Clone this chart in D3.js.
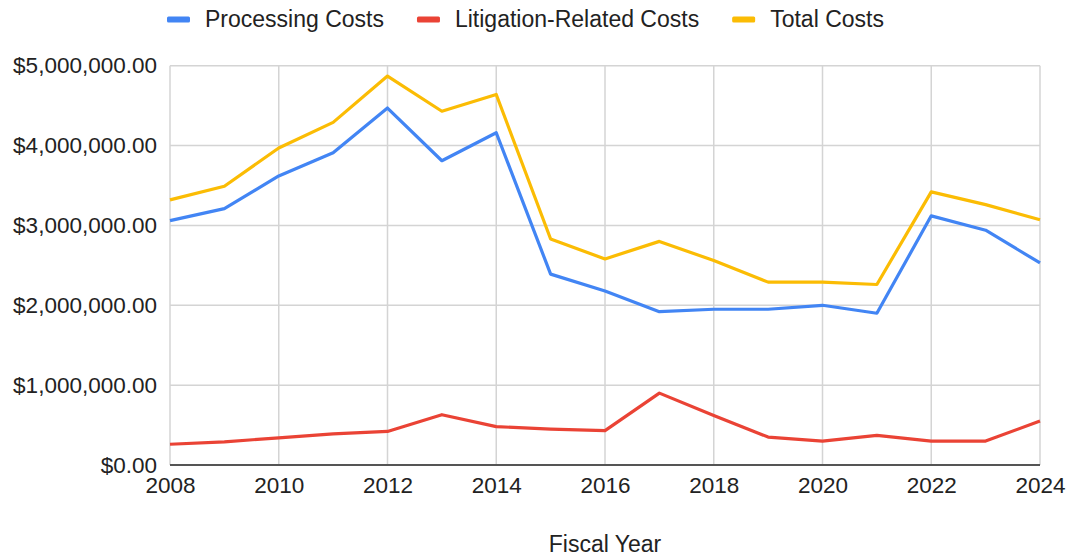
<!DOCTYPE html>
<html>
<head>
<meta charset="utf-8">
<script src="https://cdn.jsdelivr.net/npm/d3@7"></script>
<style>
  body { margin: 0; background: #fff; }
  text { font-family: "Liberation Sans", Arial, sans-serif; fill: #222; }
</style>
</head>
<body>
<div id="area"></div>
<script>
var years = [2008, 2009, 2010, 2011, 2012, 2013, 2014, 2015, 2016,
             2017, 2018, 2019, 2020, 2021, 2022, 2023, 2024];

var processingCosts = [3060000, 3210000, 3620000, 3910000, 4470000, 3810000, 4160000, 2390000, 2180000,
                       1920000, 1950000, 1950000, 2000000, 1900000, 3120000, 2940000, 2530000];
var litigationCosts = [260000, 290000, 340000, 390000, 420000, 630000, 480000, 450000, 430000,
                       900000, 620000, 350000, 300000, 370000, 300000, 300000, 550000];
var totalCosts = [3320000, 3490000, 3970000, 4290000, 4870000, 4430000, 4640000, 2830000, 2580000,
                  2800000, 2560000, 2290000, 2290000, 2260000, 3420000, 3260000, 3070000];

var seriesNames = ['Processing Costs', 'Litigation-Related Costs', 'Total Costs'];
var seriesColors = ['#4285F4', '#EA4335', '#FBBC04'];
var yTicks = [0, 1000000, 2000000, 3000000, 4000000, 5000000];
var xTicks = [2008, 2010, 2012, 2014, 2016, 2018, 2020, 2022, 2024];

var width = 1069, height = 558;
var plot = {left: 170, right: 1040, top: 65.7, bottom: 465};

var svg = d3.select('#area').append('svg')
    .attr('width', width)
    .attr('height', height);

var x = d3.scaleLinear().domain([2008, 2024]).range([plot.left, plot.right]);
var y = d3.scaleLinear().domain([0, 5000000]).range([plot.bottom, plot.top]);

var money = d3.format('$,.2f');

// gridlines
svg.append('g')
  .selectAll('line')
  .data(yTicks.slice(1))
  .enter().append('line')
    .attr('x1', plot.left).attr('x2', plot.right)
    .attr('y1', function(d) { return y(d); })
    .attr('y2', function(d) { return y(d); })
    .attr('stroke', '#d4d4d4')
    .attr('stroke-width', 1.5);

svg.append('g')
  .selectAll('line')
  .data(xTicks)
  .enter().append('line')
    .attr('x1', function(d) { return x(d); })
    .attr('x2', function(d) { return x(d); })
    .attr('y1', plot.top).attr('y2', plot.bottom)
    .attr('stroke', '#d4d4d4')
    .attr('stroke-width', 1.5);

// y axis labels
var yAxis = d3.axisLeft(y).tickValues(yTicks).tickFormat(money).tickSize(0).tickPadding(13);
var yg = svg.append('g').attr('transform', 'translate(' + plot.left + ',0)').call(yAxis);
yg.select('.domain').remove();
yg.selectAll('text')
  .attr('font-size', '22.5px')
  .attr('fill', '#222')
  .style('font-family', '"Liberation Sans", Arial, sans-serif');

// x axis labels
var xAxis = d3.axisBottom(x).tickValues(xTicks).tickFormat(d3.format('d')).tickSize(0).tickPadding(12);
var xg = svg.append('g').attr('transform', 'translate(0,' + plot.bottom + ')').call(xAxis);
xg.select('.domain').remove();
xg.selectAll('text')
  .attr('font-size', '22.5px')
  .attr('fill', '#222')
  .style('font-family', '"Liberation Sans", Arial, sans-serif');

// baseline
svg.append('line')
  .attr('x1', plot.left).attr('x2', plot.right)
  .attr('y1', y(0)).attr('y2', y(0))
  .attr('stroke', '#555')
  .attr('stroke-width', 2);

// lines
var series = [processingCosts, litigationCosts, totalCosts];
var line = d3.line()
  .x(function(d, i) { return x(years[i]); })
  .y(function(d) { return y(d); });

series.forEach(function(values, i) {
  svg.append('path')
    .datum(values)
    .attr('d', line)
    .attr('fill', 'none')
    .attr('stroke', seriesColors[i])
    .attr('stroke-width', 3.2)
    .attr('stroke-linejoin', 'round');
});

// legend
var legend = svg.append('g');
var lx = 167;
seriesNames.forEach(function(name, i) {
  legend.append('rect')
    .attr('x', lx).attr('y', 16.5)
    .attr('width', 23).attr('height', 6)
    .attr('rx', 1.5)
    .attr('fill', seriesColors[i]);
  var t = legend.append('text')
    .attr('x', lx + 38).attr('y', 27)
    .attr('font-size', '23px')
    .text(name);
  lx += 38 + t.node().getComputedTextLength() + 33;
});

// axis title
svg.append('text')
  .attr('x', (plot.left + plot.right) / 2)
  .attr('y', 552)
  .attr('text-anchor', 'middle')
  .attr('font-size', '23px')
  .text('Fiscal Year');
</script>
</body>
</html>
